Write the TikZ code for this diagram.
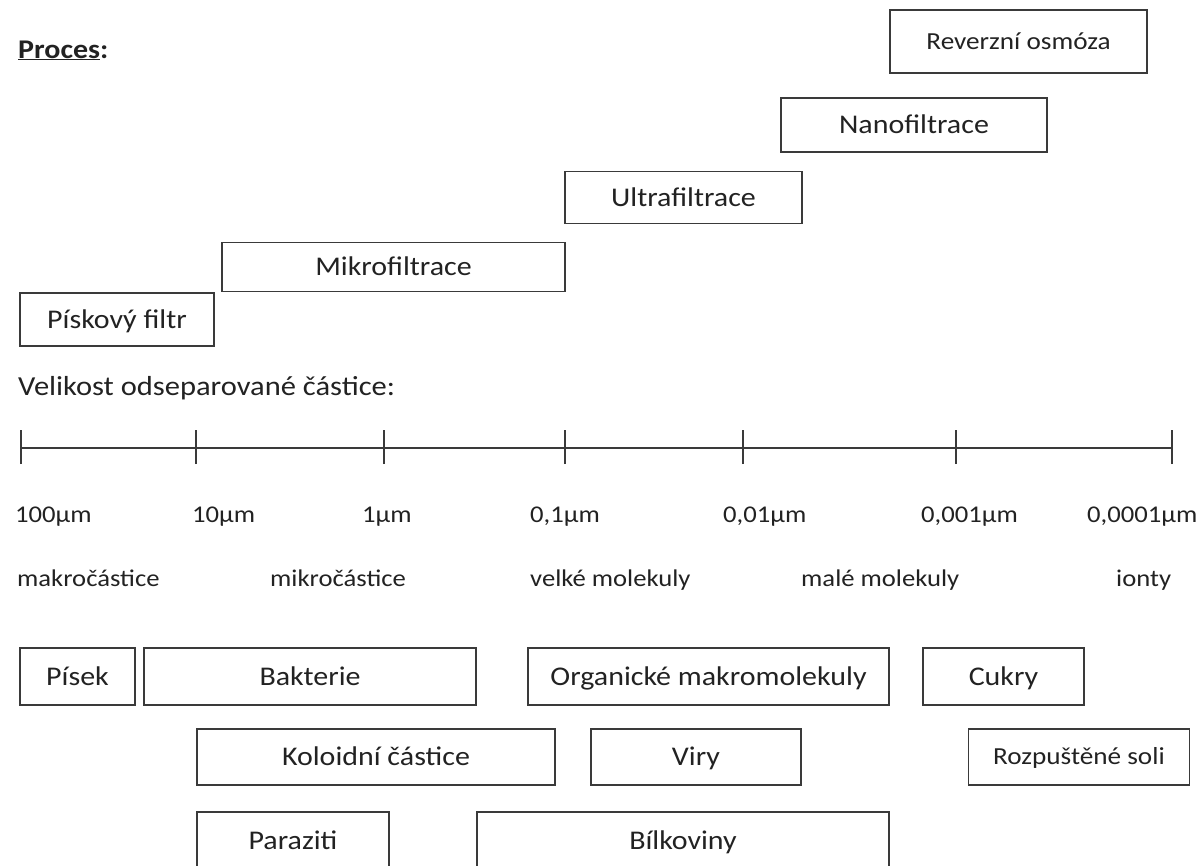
\documentclass[tikz,border=0pt]{standalone}
\usepackage{fontspec}
\setmainfont{Carlito}[FakeStretch=1.11]
\definecolor{ink}{HTML}{222222}
\definecolor{frame}{HTML}{3A3A3A}
\newcommand{\bigtext}{\fontsize{27}{32}\selectfont}
\newcommand{\axistext}{\fontsize{24}{28}\selectfont}
\begin{document}
\begin{tikzpicture}[x=1pt, y=-1pt,
  every node/.style={text=ink},
  pbox/.style={draw=frame, line width=1.4pt, inner sep=0pt, font=\bigtext,
    text height=17.4pt, text depth=0pt, minimum height=#1},
  pbox/.default=54pt,
  lbl/.style={anchor=base west, inner sep=0pt, font=\axistext},
  tick/.style={draw=frame, line width=1.4pt}]
\useasboundingbox (0,0) rectangle (1201,865);

% heading
\node[anchor=base west, inner sep=0pt, font=\bfseries\bigtext] (proc) at (18,58) {\underline{Proces}:};

% processes
\node[pbox=63pt, minimum width=257pt, font=\fontsize{24.5}{29}\selectfont, text height=15.8pt] (ro) at (1018.5,41.5) {Reverzní osmóza};
\node[pbox, minimum width=266pt] (nf)  at (914,125) {Nanofiltrace};
\node[pbox=52pt, minimum width=237pt] (uf)  at (683.5,197.5) {Ultrafiltrace};
\node[pbox=49pt, minimum width=343pt] (mf)  at (393.5,267) {Mikrofiltrace};
\node[pbox=53pt, minimum width=194pt] (pf)  at (117,319.5) {Pískový filtr};

\node[anchor=base west, inner sep=0pt, font=\fontsize{27.5}{32}\selectfont] (vel) at (18,395) {Velikost odseparované částice:};

% size axis
\coordinate (t0) at (21,448);
\coordinate (t1) at (196,448);
\coordinate (t2) at (384,448);
\coordinate (t3) at (565,448);
\coordinate (t4) at (743,448);
\coordinate (t5) at (956,448);
\coordinate (t6) at (1172,448);
\draw[tick] (t0) -- (t6);
\foreach \t in {t0,t1,t2,t3,t4,t5,t6}
  \draw[tick] ([yshift=-16pt]\t) -- ([yshift=18pt]\t);

\node[lbl] (s0) at (15,522) {100µm};
\node[lbl] (s1) at (192,522) {10µm};
\node[lbl] (s2) at (362,522) {1µm};
\node[lbl] (s3) at (530,522) {0,1µm};
\node[lbl] (s4) at (723,522) {0,01µm};
\node[lbl] (s5) at (921,522) {0,001µm};
\node[lbl] (s6) at (1087,522) {0,0001µm};

\node[lbl] (c0) at (17,586) {makročástice};
\node[lbl] (c1) at (270,586) {mikročástice};
\node[lbl] (c2) at (530,586) {velké molekuly};
\node[lbl] (c3) at (801,586) {malé molekuly};
\node[lbl] (c4) at (1116,586) {ionty};

% particles
\node[pbox=57pt, minimum width=115pt] (pisek) at (77.5,676.5) {Písek};
\node[pbox=57pt, minimum width=332pt] (bakt)  at (310,676.5) {Bakterie};
\node[pbox=57pt, minimum width=361pt] (org)   at (708.5,676.5) {Organické makromolekuly};
\node[pbox=57pt, minimum width=161pt] (cukr)  at (1003.5,676.5) {Cukry};
\node[pbox=56pt, minimum width=358pt] (kol)   at (376,757) {Koloidní částice};
\node[pbox=56pt, minimum width=210pt] (viry)  at (696,757) {Viry};
\node[pbox=56pt, minimum width=221pt, font=\fontsize{24.5}{29}\selectfont, text height=15.8pt] (soli) at (1079,757) {Rozpuštěné soli};
\node[pbox=58pt, minimum width=192pt] (par) at (293,841) {Paraziti};
\node[pbox=58pt, minimum width=412pt] (bil) at (683,841) {Bílkoviny};
\end{tikzpicture}
\end{document}
